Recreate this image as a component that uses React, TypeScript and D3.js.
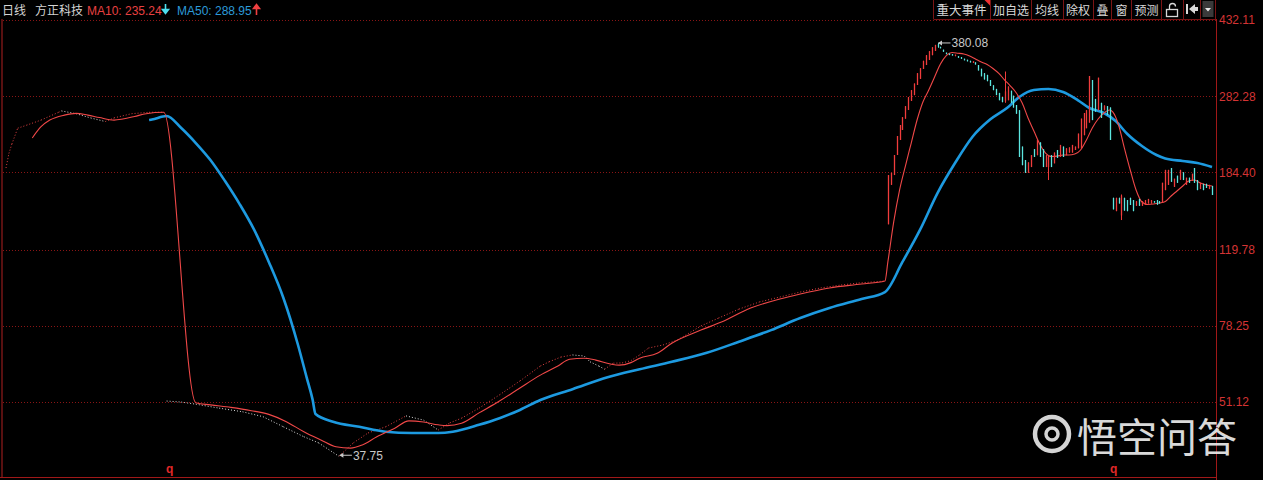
import React from "react";
import * as d3 from "d3";

// right price axis (log scale)
const priceTicks = [432.11, 282.28, 184.4, 119.78, 78.25, 51.12];
const tickLabels = ["432.11", "282.28", "184.40", "119.78", "78.25", "51.12"];

// tiny daily bars before the big drop: [bar index, price]
const upperTicks: [number, number][] = [
  [0, 189], [1, 205], [2, 216], [4, 236], [7, 240], [12, 247], [18, 258], [19, 260],
  [24, 256], [29, 250], [34, 245], [37, 250], [43, 256], [49, 258], [54, 258],
];

// tiny daily bars after the drop, up to the resumption
const lowerTicks: [number, number][] = [
  [55, 51.4], [60, 51.1], [65, 50.5], [73, 49.4], [81, 48.4], [88, 47.1], [95, 44.5],
  [102, 42.1], [107, 40.7], [114, 37.75], [119, 40.7], [124, 43.0], [130, 44.5],
  [137, 47.3], [143, 46.2], [148, 43.7], [152, 45.5], [156, 46.7], [162, 49.4],
  [169, 53.2], [176, 57.5], [183, 62.5], [186, 64.0], [190, 65.7], [194, 66.5],
  [198, 66.1], [200, 64.0], [203, 62.5], [205, 61.4], [208, 63.5], [211, 63.6],
  [214, 64.4], [217, 66.5], [220, 69.1], [225, 70.3], [230, 72.3], [238, 78.2],
  [244, 81.7], [251, 85.9], [258, 89.4], [265, 91.9], [272, 94.5], [279, 96.7],
  [286, 98.3], [292, 99.4], [301, 100.5],
];

const ma10: [number, number][] = [
  [9, 223.5], [12, 238], [15, 247], [20, 254], [24, 256.5], [28, 254], [32, 250.5],
  [37, 247], [40, 248.5], [44, 252], [48, 256], [54, 258], [65, 50.9], [70, 50.3],
  [77, 49.6], [84, 48.7], [90, 47.7], [96, 45.8], [102, 43.3], [108, 41.3], [113, 39.8],
  [118, 39.5], [122, 40.2], [127, 42.1], [133, 44.1], [138, 46.0], [143, 45.7],
  [148, 45.0], [151, 44.8], [156, 45.4], [162, 48.1], [169, 51.4], [176, 55.3],
  [183, 59.4], [189, 62.5], [193, 64.9], [198, 65.3], [202, 64.6], [207, 63.2],
  [210, 62.8], [214, 63.7], [217, 65.3], [223, 67.1], [228, 71.0], [238, 76.4],
  [245, 79.9], [255, 86.4], [265, 90.9], [272, 93.5], [282, 96.7], [293, 98.8],
  [301, 100.5], [302, 111.8], [304, 139.8], [306, 167.1], [308, 191.1], [310, 217.3],
  [312, 247.1], [314, 273.3], [316, 292.2], [318, 314.3], [320, 337.9], [322, 354.3],
  [324, 360.3], [326, 359], [328, 357.4], [330, 353.4], [332, 347.5], [334, 341.7],
  [336, 337], [338, 329.5], [340, 320.5], [342, 309], [344, 298.8], [346, 287.4],
  [348, 271.8], [350, 249.9], [352, 232.4], [354, 216.1], [356, 205.5], [358, 201.5],
  [360, 202], [362, 203.2], [364, 203.2], [366, 204.3], [368, 209], [370, 221],
  [372, 236.3], [374, 248.5], [376, 257], [378, 261.3], [379, 258.5], [381, 240.3],
  [383, 211.3], [385, 186.9], [387, 167.1], [389, 156.3], [391, 154.1], [393, 154.5],
  [395, 155.4], [397, 156.7], [399, 161.6], [401, 166.2], [403, 170.9], [405, 175.7],
  [407, 176.7], [409, 173.8], [411, 171.9], [413, 170.9],
];

const ma50: [number, number][] = [
  [49, 247.1], [50, 247.8], [55, 252.7], [60, 236.3], [65, 217.3], [70, 197.6],
  [75, 175.7], [80, 154.5], [85, 133.7], [90, 111.8], [95, 91.4], [100, 70.3],
  [103, 58.5], [105, 51.8], [106, 47.8], [112, 45.8], [121, 44.5], [130, 43.3],
  [139, 43.0], [148, 43.0], [153, 43.3], [162, 45.0], [169, 46.7], [176, 48.9],
  [183, 51.7], [194, 54.9], [206, 58.7], [217, 61.4], [228, 64.0], [240, 67.3],
  [251, 71.6], [262, 76.4], [272, 81.7], [282, 86.4], [293, 90.9], [301, 94.5],
  [307, 111.8], [313, 133.7], [319, 164.3], [325, 194.3], [331, 225.1], [337, 247.8],
  [343, 265.0], [347, 281.0], [352, 292.2], [357, 293.8], [362, 289.0], [367, 276.3],
  [371, 264.3], [376, 257.0], [380, 245.7], [384, 228.5], [389, 213.7], [394, 203.2],
  [397, 199.3], [403, 196.5], [408, 194.3], [413, 190.0],
];

// candles after trading resumed (bar 302 onwards)
const candleStart = 302;
const candleOpen = [
  138, 172, 181.7, 203.2, 221, 233.7, 249, 261.3, 275, 284, 300.5, 311, 328.6, 336, 345.6,
  355, 363.5, 378, 372, 366, 360, 358, 357, 353, 353, 351, 348, 346, 344, 340, 341, 336,
  329, 321, 318, 309, 300, 294, 287.5, 281, 274, 276, 291, 283, 268.7, 261, 213, 197.6,
  184, 190, 210, 203, 218, 210, 190, 190, 203, 194, 209, 201, 213, 203, 206, 206, 209,
  211, 211, 227, 236, 243.6, 309, 278, 261, 272, 261, 267, 265, 160, 148.5, 160, 145,
  160, 158, 160, 158, 153, 159, 153, 154, 155, 155, 157, 158, 157, 156, 167, 172, 189,
  170, 181, 177, 184.5, 172, 179, 176, 189, 176.7, 168, 173, 173, 168, 171,
];
const candleClose = [
  181.7, 184, 203.2, 226, 240.3, 251, 267, 281, 292, 303, 321, 330, 344, 355, 363, 371,
  376, 372, 369, 362, 357, 356, 355, 356, 350, 348, 345, 343, 341, 343, 337, 326, 315.5,
  310, 307, 299, 292, 284, 276, 273, 290, 298, 272, 265, 256, 201, 192, 184, 195, 203,
  201, 221, 201, 190, 203, 201, 190, 206, 200, 215, 201, 211, 212, 215, 213, 229, 249,
  257, 261, 316, 247, 259, 313, 250, 268, 254, 221, 150, 160, 155, 162, 149, 148.5,
  153.7, 148.5, 157, 153, 157, 158, 159, 158, 156, 154, 155, 174, 187, 187, 175, 178,
  174, 187, 176.7, 179, 174, 183, 174, 167, 174, 167, 169, 172, 162.5,
];
// [bar index, high, low] where the shadow reaches past the body
const candleWicks: [number, number, number][] = [
  [319, 380.08, 370], [342, 324, 272], [357, 203, 176.7], [382, 163, 141.3],
];

const toolbarLabels = ["重大事件", "加自选", "均线", "除权", "叠", "窗", "预测"];

const RED = "#f03c3c";
const CYAN = "#5ce6e0";
const NUM_FONT = "'Liberation Sans', Arial, sans-serif";
const CJK_FONT = "'Noto Sans CJK SC', 'Liberation Sans', sans-serif";

function App() {
  const width = 1263;
  const height = 480;
  const axisX = 1216.5;

  const x = d3.scaleLinear().domain([0, 413]).range([6, 1212]);
  const y = d3.scaleLog().domain([51.12, 432.11]).range([402, 20]);

  const line = d3
    .line<[number, number]>()
    .x((d) => x(d[0]))
    .y((d) => y(d[1]))
    .curve(d3.curveMonotoneX);

  // dotted tiny-bar path, red where rising, grey where falling
  const dotted = (pts: [number, number][], key: string) =>
    pts.slice(1).map((p, k) => {
      const a = pts[k];
      return (
        <line
          key={key + k}
          x1={x(a[0])}
          y1={y(a[1])}
          x2={x(p[0])}
          y2={y(p[1])}
          stroke={p[1] >= a[1] ? "#e04040" : "#d8d8d8"}
          strokeWidth={1}
          strokeDasharray="1 2"
        />
      );
    });

  const candles = candleOpen.map((o, k) => {
    const i = candleStart + k;
    const c = candleClose[k];
    const w = candleWicks.find((d) => d[0] === i);
    const hi = w ? w[1] : Math.max(o, c);
    const lo = w ? w[2] : Math.min(o, c);
    const cx = Math.round(x(i)) + 0.5;
    const col = c >= o ? RED : CYAN;
    return (
      <g key={"c" + i}>
        <line x1={cx} x2={cx} y1={y(hi)} y2={y(lo)} stroke={col} strokeWidth={1} />
        <line
          x1={cx}
          x2={cx}
          y1={y(Math.max(o, c))}
          y2={Math.max(y(Math.min(o, c)), y(Math.max(o, c)) + 1.5)}
          stroke={col}
          strokeWidth={1.3}
        />
      </g>
    );
  });

  const edges = [933.5, 990.5, 1031.5, 1063.5, 1093.5, 1111.5, 1131.5, 1161.5, 1183.5, 1200.5, 1215.5];
  const centers = [961.5, 1011, 1047, 1078, 1102.5, 1121.5, 1146.5];

  return (
    <svg
      width={width}
      height={height}
      style={{ position: "fixed", left: 0, top: 0, background: "#000", display: "block" }}
    >
      <rect width={width} height={height} fill="#000" />

      {/* grid */}
      {priceTicks.map((p) => (
        <line
          key={"g" + p}
          x1={3}
          x2={axisX}
          y1={Math.round(y(p)) + 0.5}
          y2={Math.round(y(p)) + 0.5}
          stroke="#8a1515"
          strokeDasharray="1 2"
        />
      ))}

      {/* frame */}
      <line x1={2} x2={2} y1={19} y2={478} stroke="#b02020" />
      <line x1={axisX} x2={axisX} y1={19} y2={height} stroke="#a01818" />
      <line x1={0} x2={axisX} y1={477.5} y2={477.5} stroke="#a01818" />

      {/* axis labels */}
      {priceTicks.map((p, k) => (
        <text
          key={"t" + p}
          x={1219}
          y={y(p)}
          dy="0.36em"
          fill="#d43434"
          fontSize={12}
          fontFamily={NUM_FONT}
        >
          {tickLabels[k]}
        </text>
      ))}

      {/* tiny bars */}
      {dotted(upperTicks, "u")}
      {dotted(lowerTicks, "l")}

      {/* moving averages */}
      <path d={line(ma50) || ""} fill="none" stroke="#1d9ae0" strokeWidth={2.6} />
      <path d={line(ma10) || ""} fill="none" stroke="#f04848" strokeWidth={1.1} />

      {candles}

      {/* extreme labels */}
      <g stroke="#c8c8c8" fill="#c8c8c8">
        <line x1={x(319) + 1} x2={x(319) + 13} y1={y(380.08)} y2={y(380.08)} />
        <path d={`M${x(319) + 0.5},${y(380.08)} l4,-2.5 l0,5 z`} stroke="none" />
        <line x1={x(114) + 1} x2={x(114) + 13} y1={y(37.75) - 1} y2={y(37.75) - 1} />
        <path d={`M${x(114) + 0.5},${y(37.75) - 1} l4,-2.5 l0,5 z`} stroke="none" />
      </g>
      <text x={x(319) + 14} y={y(380.08) + 4.5} fill="#c8c8c8" fontSize={12} fontFamily={NUM_FONT}>
        380.08
      </text>
      <text x={x(114) + 14} y={y(37.75) + 3.5} fill="#c8c8c8" fontSize={12} fontFamily={NUM_FONT}>
        37.75
      </text>

      {/* header */}
      <text x={2} y={15} fill="#d4d4d4" fontSize={12} fontFamily={CJK_FONT}>
        日线
      </text>
      <text x={35} y={15} fill="#d4d4d4" fontSize={12} fontFamily={CJK_FONT}>
        方正科技
      </text>
      <text x={87} y={15} fill="#e84040" fontSize={12} fontFamily={NUM_FONT}>
        MA10: 235.24
      </text>
      <path d="M165.5,4 v7 M162.5,9.5 l3,4 l3,-4 z" stroke="#4ee0f0" fill="#4ee0f0" strokeWidth={1.6} />
      <text x={177} y={15} fill="#2c9ad8" fontSize={12} fontFamily={NUM_FONT}>
        MA50: 288.95
      </text>
      <path d="M256.5,15 v-7 M253.5,8.5 l3,-4 l3,4 z" stroke="#f04040" fill="#f04040" strokeWidth={1.6} />

      {/* toolbar */}
      <g>
        <line x1={edges[0]} x2={1216} y1={19.5} y2={19.5} stroke="#7a1414" />
        {edges.map((e) => (
          <line key={"e" + e} x1={e} x2={e} y1={0} y2={19} stroke="#7a1414" />
        ))}
        {toolbarLabels.map((t, k) => (
          <text
            key={t}
            x={centers[k]}
            y={15}
            textAnchor="middle"
            fill="#d8d8d8"
            fontSize={k === 0 ? 12.5 : 12}
            fontFamily={CJK_FONT}
          >
            {t}
          </text>
        ))}
        <path d="M984.5,0 h5.5 v5.5 z" fill="#f03030" />
        {/* lock */}
        <rect x={1166.5} y={9.5} width={11} height={7} fill="none" stroke="#d8d8d8" strokeWidth={1.3} />
        <path d="M1169.5,9.5 v-3 a3,3 0 0 1 6,0" fill="none" stroke="#d8d8d8" strokeWidth={1.3} />
        {/* back to start */}
        <rect x={1186} y={4} width={2} height={10} fill="#d8d8d8" />
        <path d="M1189,9 l6,-5 v3 h3 v4 h-3 v3 z" fill="#d8d8d8" />
        {/* menu */}
        <rect x={1202.5} y={1} width={11} height={16} fill="#3a3a3a" />
        <path d="M1205,8 h6 l-3,3.5 z" fill="#e8e8e8" />
      </g>

      {/* cursor markers */}
      <text x={166} y={473} fill="#e02828" fontSize={12} fontWeight="bold" fontFamily={NUM_FONT}>
        q
      </text>
      <text x={1110} y={473} fill="#e02828" fontSize={12} fontWeight="bold" fontFamily={NUM_FONT}>
        q
      </text>

      {/* watermark */}
      <g opacity={0.92}>
        <circle cx={1052} cy={434} r={17} fill="none" stroke="#e6e6e6" strokeWidth={4.5} />
        <circle cx={1052} cy={434} r={6} fill="none" stroke="#e6e6e6" strokeWidth={3.5} />
        <text x={1077} y={452} fill="#ececec" fontSize={40} fontFamily={CJK_FONT}>
          悟空问答
        </text>
      </g>
    </svg>
  );
}

export default App;
